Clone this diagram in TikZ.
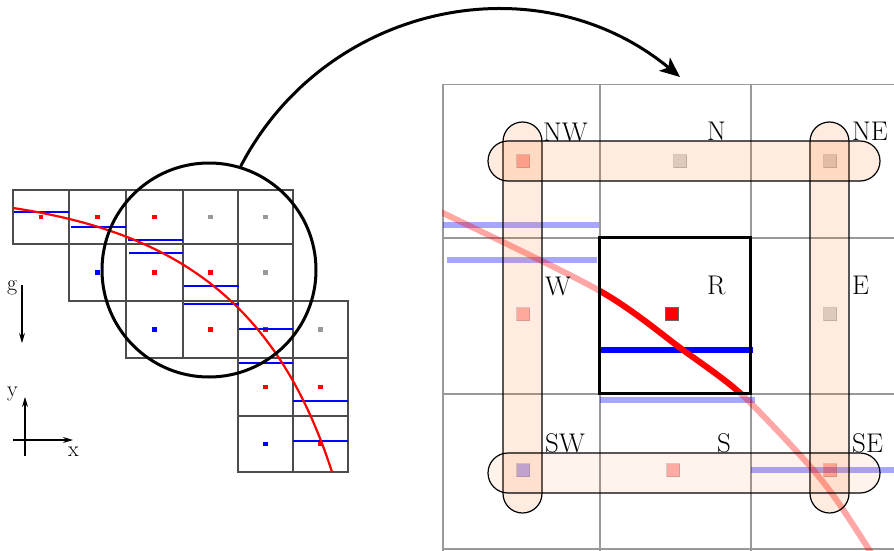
\documentclass[tikz,border=0pt]{standalone}
\usetikzlibrary{arrows.meta}
\definecolor{capsulecol}{RGB}{255,96,0}
\begin{document}
\begin{tikzpicture}[x=1pt,y=1pt,
  cellline/.style={draw=black!70, line width=1.2pt},
  bluebar/.style={blue, line width=2.4pt},
  redcurve/.style={red, line width=2.2pt},
  axisarrow/.style={line width=1.2pt, -{Stealth[length=10pt,width=6pt]}},
  smalllab/.style={anchor=base west, inner sep=0pt, font=\fontsize{22}{24}\selectfont},
  biglab/.style={anchor=base west, inner sep=0pt, font=\fontsize{27}{30}\selectfont},
  gridline/.style={draw=black!40, line width=2pt},
  fadeblue/.style={blue, opacity=0.35, line width=6pt},
  fadered/.style={red, opacity=0.35, line width=6pt},
  capsule/.style={draw=black, line width=1.2pt, fill=capsulecol, fill opacity=0.125},
  capsulelight/.style={draw=black, line width=1.2pt, fill=capsulecol, fill opacity=0.08},
  fadedot/.style={fill opacity=0.3, draw=gray, draw opacity=0.35, line width=1pt},
  bigarrow/.style={line width=3pt, -{Stealth[length=20pt,width=17pt,inset=5pt]}},
  dred/.style={fill=red}, dgray/.style={fill=black!40}, dblue/.style={fill=blue}
]
\useasboundingbox (0,0) rectangle (894,-551);

% ---------- left panel ----------
\foreach \a/\b/\c/\d in {
 13/190/69/244, 69/190/126/244, 126/190/183/244, 183/190/238/244, 238/190/293/244,
 69/244/126/301, 126/244/183/301, 183/244/238/301, 238/244/293/301,
 126/301/183/358, 183/301/238/358, 238/301/293/358, 293/301/348/358,
 238/358/293/416, 293/358/348/416,
 238/416/293/472, 293/416/348/472}
 { \draw[cellline] (\a,-\b) rectangle (\c,-\d); }

\foreach \a/\b/\c/\d/\col in {
 13/190/69/244/dred, 69/190/126/244/dred, 126/190/183/244/dred, 183/190/238/244/dgray, 238/190/293/244/dgray,
 69/244/126/301/dblue, 126/244/183/301/dred, 183/244/238/301/dred, 238/244/293/301/dgray,
 126/301/183/358/dblue, 183/301/238/358/dred, 238/301/293/358/dred, 293/301/348/358/dgray,
 238/358/293/416/dred, 293/358/348/416/dred,
 238/416/293/472/dblue, 293/416/348/472/dred}
 { \path[\col] ({(\a+\c)/2-2.3},{-(\b+\d)/2-2.3}) rectangle ++(4.6,4.6); }

\foreach \a/\yy/\c in {14/212/69, 71/227/126, 128/240/183, 129/253/183, 184/286/239,
  184/304/239, 239/329/293, 239/363/293, 293/401/348, 293/441/348}
 { \draw[bluebar] (\a,-\yy) -- (\c,-\yy); }

\draw[redcurve] (13,-208) .. controls (179,-233) and (278,-305) .. (332,-472);

\node[draw, circle, line width=3pt, minimum size=214pt, inner sep=0pt] (lens) at (209,-270) {};

% axes
\coordinate (gtop) at (22,-285);
\coordinate (gbot) at (22,-343);
\draw[axisarrow] (gtop) -- (gbot);
\node[smalllab] (glab) at (7,-290) {g};
\coordinate (yfoot) at (25,-456);
\coordinate (ytip) at (25,-397);
\draw[axisarrow] (yfoot) -- (ytip);
\node[smalllab] (ylab) at (7,-396) {y};
\coordinate (xfoot) at (13,-440);
\coordinate (xtip) at (73,-440);
\draw[axisarrow] (xfoot) -- (xtip);
\node[smalllab] (xlab) at (68,-456) {x};

% ---------- big arrow ----------
\coordinate (arrowtip) at (680,-77);
\draw[bigarrow] (lens.73) to[bend left=51, looseness=1.05] (arrowtip);

% ---------- right panel ----------
\begin{scope}
\clip (442,-84) rectangle (894,-551);
\foreach \xx in {443,600,751} { \draw[gridline] (\xx,-84) -- (\xx,-551); }
\foreach \yy in {84,238,394,549} { \draw[gridline] (443,-\yy) -- (894,-\yy); }
\draw[fadeblue] (443,-225) -- (599,-225);
\draw[fadeblue] (447,-260) -- (597,-260);
\draw[fadeblue] (600,-400) -- (755,-400);
\draw[fadeblue] (751,-470) -- (900,-470);
\draw[fadered] plot[smooth] coordinates {(425,-204) (443,-213) (600,-291) (683,-350)
  (740,-393) (800,-455) (833,-495) (870,-551) (880,-568)};
\end{scope}

% dots
\draw[fadedot, fill=red]   (516.5,-154.5) rectangle ++(13,-13);
\draw[fadedot, fill=gray]  (673.5,-154.5) rectangle ++(13,-13);
\draw[fadedot, fill=gray]  (823.5,-154.5) rectangle ++(13,-13);
\draw[fadedot, fill=red]   (516.5,-307.5) rectangle ++(13,-13);
\draw[fadedot, fill=gray]  (823.5,-307.5) rectangle ++(13,-13);
\draw[fadedot, fill=blue]  (516.5,-463.5) rectangle ++(13,-13);
\draw[fadedot, fill=red]   (666.5,-463.5) rectangle ++(13,-13);
\draw[fadedot, fill=red]   (823.5,-463.5) rectangle ++(13,-13);

% capsules
\draw[capsule, rounded corners=19.5pt] (503,-122) rectangle (542,-513);
\draw[capsule, rounded corners=19.5pt] (810,-122) rectangle (849,-513);
\draw[capsule, rounded corners=20pt] (488,-141) rectangle (880,-181);
\draw[capsulelight, rounded corners=20pt] (488,-453) rectangle (880,-493);

% region R
\node[minimum width=150pt, minimum height=155pt, inner sep=0pt] (Rbox) at (675,-315.5) {};
\draw[blue, line width=6pt] (Rbox.west |- 0,-350) -- (753,-350);
\begin{scope}
\clip (Rbox.south west) rectangle (Rbox.north east);
\draw[red, line width=6pt] plot[smooth] coordinates {(425,-204) (443,-213) (600,-291) (683,-350)
  (740,-393) (800,-455) (833,-495)};
\end{scope}
\draw[fill=red, draw=black!60, line width=1pt] (665.5,-307.5) rectangle ++(13,-13);
\draw[line width=3pt] (Rbox.south west) rectangle (Rbox.north east);

% labels
\node[biglab] (lNW) at (543,-141) {NW};
\node[biglab] (lN)  at (707,-140) {N};
\node[biglab] (lNE) at (852,-140) {NE};
\node[biglab] (lW)  at (545,-295) {W};
\node[biglab] (lR)  at (707,-294) {R};
\node[biglab] (lE)  at (852,-294) {E};
\node[biglab] (lSW) at (545,-452) {SW};
\node[biglab] (lS)  at (717,-452) {S};
\node[biglab] (lSE) at (852,-452) {SE};
\end{tikzpicture}
\end{document}
